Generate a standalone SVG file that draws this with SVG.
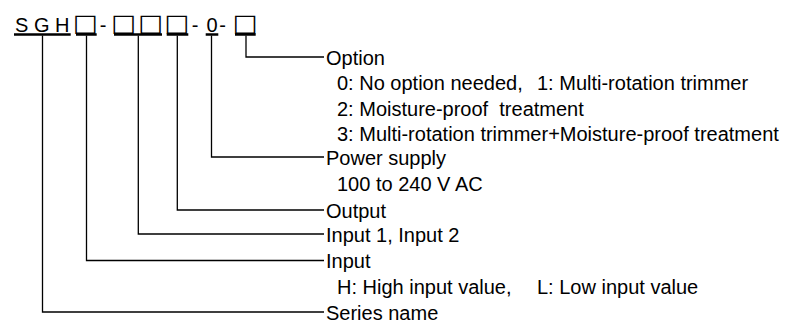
<svg xmlns="http://www.w3.org/2000/svg" width="792" height="323" viewBox="0 0 792 323">
<style>
text{font-family:"Liberation Sans",Arial,sans-serif;font-size:20px;fill:#000}
.box{font-family:"DejaVu Sans",sans-serif;font-size:24px;text-anchor:middle;opacity:0.99}
.bar{stroke:#000;stroke-width:2.6;fill:none}
.conn{fill:none;stroke:#000;stroke-width:1.3}
</style>
<rect width="792" height="323" fill="#fff"/>
<g id="model-code">
  <text x="15" y="31.5">S G H</text>
  <text class="box" transform="translate(85.5 30.5) scale(1.1 1)">□</text>
  <text x="99.7" y="31.5">-</text>
  <text class="box" transform="translate(123.8 30.5) scale(1.1 1)">□</text>
  <text class="box" transform="translate(150.8 30.5) scale(1.1 1)">□</text>
  <text class="box" transform="translate(177 30.5) scale(1.1 1)">□</text>
  <text x="191.7" y="31.5">-</text>
  <text x="206.5" y="31.5">0</text>
  <text x="219.3" y="31.5">-</text>
  <text class="box" transform="translate(245.3 30.5) scale(1.1 1)">□</text>
  <path class="bar" d="M14 34.5H70.7M76 34.5H96.7M114 34.5H162M166.7 34.5H188.3M205.7 34.5H218.3M235 34.5H255.7"/>
</g>
<g id="connectors">
  <path class="conn" d="M42.5 35.5V312H324"/>
  <path class="conn" d="M86.5 35.5V260.5H324"/>
  <path class="conn" d="M138.3 35.5V234H324"/>
  <path class="conn" d="M177.3 35.5V210H324"/>
  <path class="conn" d="M211.5 35.5V157H324"/>
  <path class="conn" d="M246 35.5V57H324"/>
</g>
<g id="option">
  <text x="326" y="64.5">Option</text>
  <text x="337" y="90">0: No option needed,<tspan x="537">1: Multi-rotation trimmer</tspan></text>
  <text x="337" y="115.5" xml:space="preserve">2: Moisture-proof  treatment</text>
  <text x="337" y="140.5">3: Multi-rotation trimmer+Moisture-proof treatment</text>
</g>
<g id="power-supply">
  <text x="326" y="164.5">Power supply</text>
  <text x="337" y="191">100 to 240 V AC</text>
</g>
<g id="output">
  <text x="326" y="217.5">Output</text>
</g>
<g id="input-1-2">
  <text x="326" y="241.5">Input 1, Input 2</text>
</g>
<g id="input">
  <text x="326" y="268">Input</text>
  <text x="337" y="294">H: High input value,<tspan x="537">L: Low input value</tspan></text>
</g>
<g id="series-name">
  <text x="326" y="319.5">Series name</text>
</g>
</svg>
